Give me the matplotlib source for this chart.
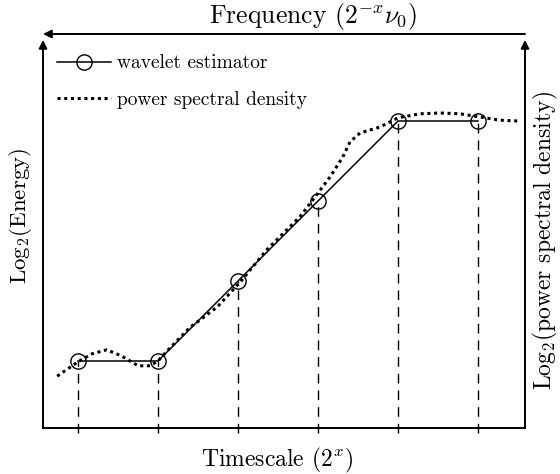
import numpy as np
import matplotlib.pyplot as plt

plt.rcParams['font.family'] = 'serif'
plt.rcParams['font.serif'] = ['cmr10', 'DejaVu Serif']
plt.rcParams['mathtext.fontset'] = 'cm'
plt.rcParams['axes.unicode_minus'] = False

# wavelet estimator points (timescale index, log2 energy)
scales = [1, 2, 3, 4, 5, 6]
energy = [1, 1, 2, 3, 4, 4]

# power spectral density curve
psd_x = [0.74, 1.0, 1.175, 1.36, 1.55, 1.75, 1.9, 2.0, 2.09, 2.4, 2.74, 3.03,
         3.36, 3.78, 4.03, 4.15, 4.31, 4.4, 4.525, 4.775, 5.0, 5.275, 5.525,
         5.775, 6.025, 6.275, 6.5]
psd_y = [0.81, 0.99, 1.09, 1.14, 1.06, 0.94, 0.94, 1.0, 1.1, 1.42, 1.675, 1.99,
         2.39, 2.81, 3.14, 3.3, 3.55, 3.74, 3.85, 3.925, 4.04, 4.09, 4.1,
         4.09, 4.05, 4.01, 4.0]

fig = plt.figure(figsize=(5.6, 4.74), dpi=100)
ax = fig.add_axes([43 / 560, 46 / 474, 482 / 560, 394 / 474])
ax.set_xlim(0.5625, 6.5875)
ax.set_ylim(0.1625, 5.0875)
ax.axis('off')

# dashed drop lines
ax.vlines(scales, 0.1, energy, colors='black', linewidth=1.0,
          linestyles=(0, (7, 5)), clip_on=False)

ax.plot(psd_x, psd_y, color='black', linewidth=2.2, dashes=(1, 1.2),
        label='power spectral density')
ax.plot(scales, energy, color='black', linewidth=1.1, marker='o', markersize=11,
        markerfacecolor='none', markeredgewidth=1.0, label='wavelet estimator')

# frame with arrows
arrow = dict(arrowstyle='-|>', color='black', lw=1.4, mutation_scale=12,
             shrinkA=0, shrinkB=0)
ax.plot([0, 1], [0, 0], color='black', lw=1.4, transform=ax.transAxes, clip_on=False)
ax.annotate('', xy=(0, 0.985), xytext=(0, 0), xycoords='axes fraction', arrowprops=arrow)
ax.annotate('', xy=(1, 0.985), xytext=(1, 0), xycoords='axes fraction', arrowprops=arrow)
ax.annotate('', xy=(0.0, 1.0), xytext=(1, 1.0), xycoords='axes fraction', arrowprops=arrow)

h, l = ax.get_legend_handles_labels()
ax.legend(h[::-1], l[::-1], loc='upper left', bbox_to_anchor=(0.029, 0.948),
          frameon=False, fontsize=14, handlelength=2.8, labelspacing=0.95,
          handletextpad=0.3, borderaxespad=0, borderpad=0)

ax.text(0.485, -0.045, 'Timescale ($2^x$)', transform=ax.transAxes,
        ha='center', va='top', fontsize=17)
ax.text(0.56, 1.006, 'Frequency ($2^{-x}\\nu_0$)', transform=ax.transAxes,
        ha='center', va='bottom', fontsize=18.5)
ax.text(-0.047, 0.538, 'Log$_2$(Energy)', transform=ax.transAxes, rotation=90,
        ha='center', va='center', fontsize=16.5)
ax.text(1.042, 0.477, 'Log$_2$(power spectral density)', transform=ax.transAxes,
        rotation=90, ha='center', va='center', fontsize=17)

plt.savefig('out.png', dpi=100)
